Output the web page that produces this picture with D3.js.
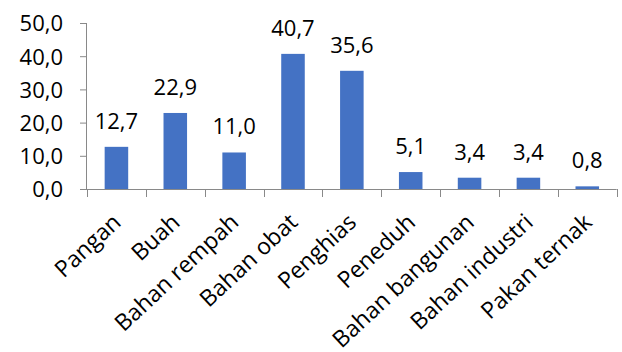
<!DOCTYPE html>
<html>
<head>
<meta charset="utf-8">
<script src="https://cdn.jsdelivr.net/npm/d3@7"></script>
<style>
  html, body { margin: 0; padding: 0; background: #fff; }
  svg { display: block; }
  text { font-family: "Open Sans", sans-serif; fill: #000; }
</style>
</head>
<body>
<script>
// Kategori pemanfaatan tumbuhan dan persentasenya
const categories = ["Pangan", "Buah", "Bahan rempah", "Bahan obat", "Penghias",
                    "Peneduh", "Bahan bangunan", "Bahan industri", "Pakan ternak"];
const values = [12.7, 22.9, 11.0, 40.7, 35.6, 5.1, 3.4, 3.4, 0.8];
const yTicks = [0, 10, 20, 30, 40, 50];

const W = 622, H = 352;
const margin = { left: 87, right: 5.3, top: 23, bottom: 163 };
const axisColor = "#898989";
const barColor = "#4472C4";

const idLocale = d3.formatLocale({ decimal: ",", thousands: ".", grouping: [3], currency: ["Rp", ""] });
const fmt = idLocale.format(".1f");

const svg = d3.select("body").append("svg")
  .attr("width", W).attr("height", H);

const x = d3.scaleBand()
  .domain(categories)
  .range([margin.left, W - margin.right])
  .paddingInner(0.6)
  .paddingOuter(0.3);

const y = d3.scaleLinear()
  .domain([0, 50])
  .range([H - margin.bottom, margin.top]);

const baseY = y(0);

// Sumbu Y
const yAxis = svg.append("g")
  .attr("transform", `translate(${margin.left},0)`)
  .call(d3.axisLeft(y).tickValues(yTicks).tickFormat(fmt).tickSize(7).tickPadding(17));
yAxis.select(".domain").attr("stroke", axisColor).attr("d", `M-0.5,${y(50)}V${baseY}`);
yAxis.selectAll(".tick line").attr("stroke", axisColor);
yAxis.selectAll(".tick text")
  .attr("font-size", 22)
  .attr("dy", "0.36em")
  .style("font-family", "'Open Sans', sans-serif")
  .attr("fill", "#000");

// Batang
svg.append("g").selectAll("rect")
  .data(values)
  .join("rect")
  .attr("x", (d, i) => x(categories[i]))
  .attr("y", d => y(d))
  .attr("width", x.bandwidth())
  .attr("height", d => baseY - y(d))
  .attr("fill", barColor);

// Label nilai
svg.append("g").selectAll("text")
  .data(values)
  .join("text")
  .attr("x", (d, i) => x(categories[i]) + x.bandwidth() / 2)
  .attr("y", d => y(d) - 18)
  .attr("text-anchor", "middle")
  .attr("font-size", 22)
  .text(d => fmt(d));

// Sumbu X
const gap = (x.step() - x.bandwidth()) / 2;
const bounds = categories.map(c => x(c) - gap).concat([x(categories[categories.length - 1]) + x.bandwidth() + gap]);
const xAxis = svg.append("g");
xAxis.append("line")
  .attr("x1", margin.left).attr("x2", W - margin.right)
  .attr("y1", baseY + 0.5).attr("y2", baseY + 0.5)
  .attr("stroke", axisColor);
xAxis.selectAll("line.tick")
  .data(bounds)
  .join("line")
  .attr("class", "tick")
  .attr("x1", d => Math.round(d) + 0.5).attr("x2", d => Math.round(d) + 0.5)
  .attr("y1", baseY).attr("y2", baseY + 8)
  .attr("stroke", axisColor);

xAxis.selectAll("text")
  .data(categories)
  .join("text")
  .attr("text-anchor", "end")
  .attr("font-size", 23)
  .attr("transform", d => `translate(${x(d) + x.bandwidth() / 2 + 6},${baseY + 35}) rotate(-43)`)
  .text(d => d);
</script>
</body>
</html>
